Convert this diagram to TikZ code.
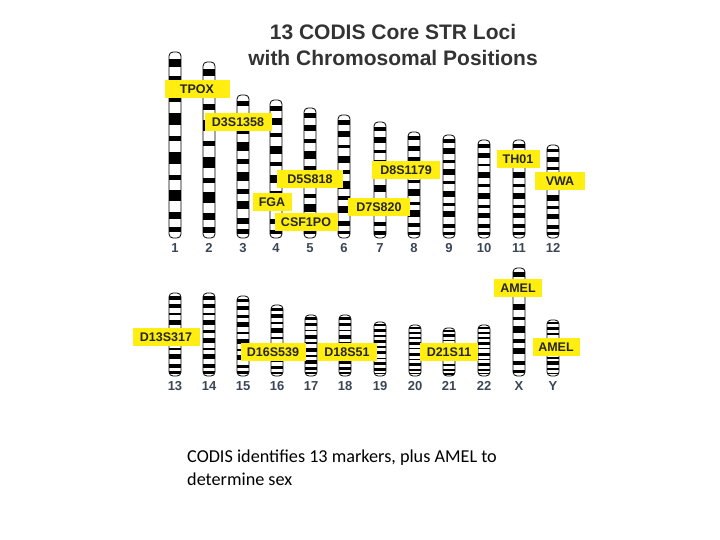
\documentclass[tikz,border=0pt]{standalone}
\usepackage{fontspec}
\setmainfont{Liberation Sans}
\newfontfamily\capfont{Carlito}
\definecolor{lblyel}{HTML}{FFEE10}
\definecolor{numcol}{HTML}{3A4656}
\begin{document}
\begin{tikzpicture}[x=1pt,y=-1pt,
  loc/.style={fill=lblyel,font=\bfseries\fontsize{12.5}{14}\selectfont,text=black!85,inner sep=0pt,minimum height=18pt,anchor=center},
  num/.style={font=\bfseries\fontsize{13}{14}\selectfont,text=numcol}]
\useasboundingbox (0,0) rectangle (720,540);
\newcommand{\chromo}[4]{%
  \begin{scope}
  \path[clip] (#1-6,#2) [rounded corners=4pt] rectangle (#1+6,#3);
  \fill[white] (#1-6,#2) rectangle (#1+6,#3);
  \foreach \a/\b in {0.04/0.08,0.13/0.18,0.24/0.27,0.33/0.39,0.45/0.48,0.54/0.60,0.66/0.69,0.74/0.80,0.86/0.90,0.94/0.97}
    \fill[black] (#1-6,{#2+\a*(#3-#2)}) rectangle (#1+6,{#2+\b*(#3-#2)});
  \end{scope}
  \draw[black,line width=0.8pt,rounded corners=4pt] (#1-6,#2) rectangle (#1+6,#3);
  \node[num] (n#4) at (#1,#3+10) {#4};}
% top row
\chromo{175}{52}{238}{1}
\chromo{209}{62}{238}{2}
\chromo{243}{95}{238}{3}
\chromo{276}{100}{238}{4}
\chromo{310}{108}{238}{5}
\chromo{344}{115}{238}{6}
\chromo{380}{122}{238}{7}
\chromo{414}{132}{238}{8}
\chromo{449}{135}{238}{9}
\chromo{484}{140}{238}{10}
\chromo{519}{140}{238}{11}
\chromo{553}{145}{238}{12}
% bottom row
\chromo{175}{293}{376}{13}
\chromo{209}{293}{376}{14}
\chromo{243}{296}{376}{15}
\chromo{277}{305}{376}{16}
\chromo{311}{315}{376}{17}
\chromo{345}{315}{376}{18}
\chromo{380}{322}{376}{19}
\chromo{415}{325}{376}{20}
\chromo{449}{328}{376}{21}
\chromo{484}{325}{376}{22}
\chromo{519}{268}{376}{X}
\chromo{553}{320}{376}{Y}
% title
\node[font=\bfseries\fontsize{21}{24}\selectfont,text=black!80] (t1) at (393,32) {13 CODIS Core STR Loci};
\node[font=\bfseries\fontsize{21}{24}\selectfont,text=black!80] (t2) at (393,58) {with Chromosomal Positions};
% loci labels
\node[loc,minimum width=65pt] (tpox) at (197,89) {TPOX};
\node[loc,minimum width=67pt] (d3) at (238,122) {D3S1358};
\node[loc,minimum width=66pt] (d5) at (310,179) {D5S818};
\node[loc,minimum width=68pt] (d8) at (406,170) {D8S1179};
\node[loc,minimum width=43pt] (th) at (518,159) {TH01};
\node[loc,minimum width=50pt] (vwa) at (560,181) {VWA};
\node[loc,minimum width=39pt] (fga) at (272,202) {FGA};
\node[loc,minimum width=62pt] (d7) at (379,207) {D7S820};
\node[loc,minimum width=63pt] (csf) at (306,222) {CSF1PO};
\node[loc,minimum width=48pt] (amx) at (518,288) {AMEL};
\node[loc,minimum width=67pt] (d13) at (166,337) {D13S317};
\node[loc,minimum width=65pt] (d16) at (273,352) {D16S539};
\node[loc,minimum width=59pt] (d18) at (347,352) {D18S51};
\node[loc,minimum width=58pt] (d21) at (449,352) {D21S11};
\node[loc,minimum width=47pt] (amy) at (556,347) {AMEL};
% caption
\node[font=\capfont\fontsize{18.2}{23}\selectfont,align=left,anchor=north west,inner sep=0pt] (cap) at (187,450) {CODIS identifies 13 markers, plus AMEL to\\determine sex};
\end{tikzpicture}
\end{document}
